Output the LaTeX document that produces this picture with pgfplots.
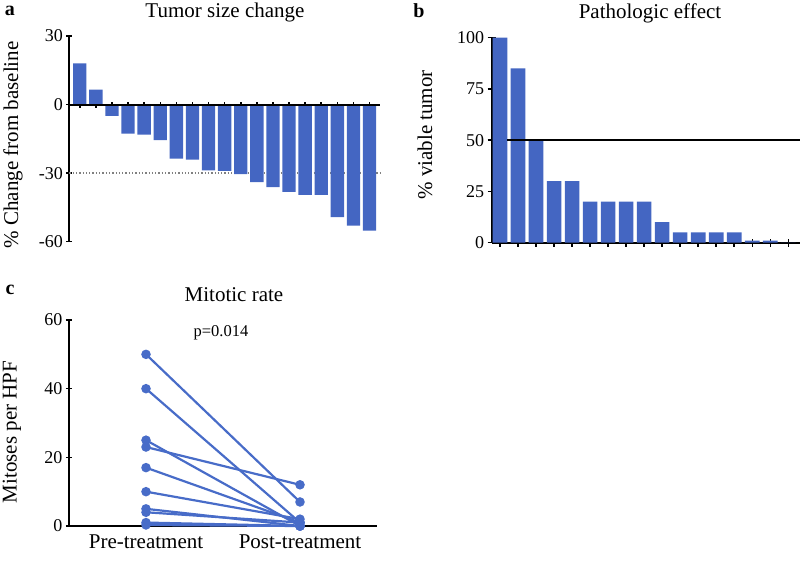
\documentclass[border=0pt]{standalone}
\usepackage{fontspec}
\setmainfont{Liberation Serif}
\usepackage{pgfplots}
\pgfplotsset{compat=1.18}
\definecolor{barblue}{RGB}{68,102,194}
\definecolor{lineblue}{RGB}{72,108,200}
\pgfplotsset{
  base/.style={
    scale only axis,
    clip=false,
    /pgf/number format/assume math mode=true,
    tick style={line width=1.5pt, black},
    tick align=outside,
    major tick length=6pt,
    ticklabel style={font=\fontsize{18}{20}\selectfont},
  },
  noarrows/.style={
    axis line style={line width=1.8pt,-},
    every inner x axis line/.append style={-},
    every outer x axis line/.append style={-},
    every inner y axis line/.append style={-},
    every outer y axis line/.append style={-},
  },
  pc/.style={lineblue, solid, line width=2.2pt, mark=*, mark size=3.6pt,
    mark options={solid, fill=lineblue, draw=lineblue}},
}
\begin{document}
\begin{tikzpicture}
\path[use as bounding box] (0pt,0pt) rectangle (800pt,560pt);
% ---------- panel a ----------
\begin{axis}[base,
  at={(69.3pt,318.3pt)}, anchor=south west,
  width=310.7pt, height=205.7pt,
  xmin=0.35, xmax=19.65, ymin=-60, ymax=30,
  axis y line=left, axis x line=middle, noarrows,
  xtick={1,...,19}, xticklabels={},
  ytick={-60,-30,0,30},
]
\draw[gray, dotted, line width=1.3pt] (axis cs:0.35,-30) -- (axis cs:19.65,-30);
\addplot[ybar, bar width=0.83, fill=barblue, draw=none] coordinates {
(1,18) (2,6.5) (3,-5) (4,-12.7) (5,-13.2) (6,-15.6) (7,-23.7) (8,-24.1)
(9,-28.8) (10,-29) (11,-30.4) (12,-33.9) (13,-36.1) (14,-38.2) (15,-39.5)
(16,-39.5) (17,-49.3) (18,-53) (19,-55.2)};
\draw[black, line width=2pt] (axis cs:0.35,0) -- (axis cs:19.65,0);
\end{axis}
% ---------- panel b ----------
\begin{axis}[base,
  at={(491.7pt,317.3pt)}, anchor=south west,
  width=308.3pt, height=205pt,
  xmin=0.54, xmax=17.65, ymin=0, ymax=100,
  axis y line=left, axis x line=bottom, noarrows,
  xtick={1,...,17}, xticklabels={},
  ytick={0,25,50,75,100},
  major tick length=8pt,
]
\addplot[ybar, bar width=0.81, fill=barblue, draw=none] coordinates {
(1,100) (2,85) (3,50) (4,30) (5,30) (6,20) (7,20) (8,20) (9,20) (10,10)
(11,5) (12,5) (13,5) (14,5) (15,1) (16,1) (17,0)};
\draw[black, line width=2pt] (axis cs:1.4,50) -- (axis cs:17.65,50);
\end{axis}
% ---------- panel c ----------
\begin{axis}[base,
  at={(69pt,34pt)}, anchor=south west,
  width=308pt, height=206pt,
  xmin=0.5, xmax=2.5, ymin=0, ymax=60,
  axis y line=left, axis x line=bottom, noarrows,
  xtick={1,2}, xticklabels={Pre-treatment,Post-treatment},
  xticklabel style={font=\fontsize{21}{23}\selectfont},
  x tick label style={yshift=-2pt},
  major x tick style={line width=1.2pt},
  ytick={0,20,40,60},
]
\addplot[pc] coordinates {(1,50) (2,7)};
\addplot[pc] coordinates {(1,40) (2,1)};
\addplot[pc] coordinates {(1,25) (2,0)};
\addplot[pc] coordinates {(1,23) (2,12)};
\addplot[pc] coordinates {(1,17) (2,1)};
\addplot[pc] coordinates {(1,10) (2,2)};
\addplot[pc] coordinates {(1,5) (2,0)};
\addplot[pc] coordinates {(1,4) (2,1)};
\addplot[pc] coordinates {(1,1) (2,0)};
\addplot[pc] coordinates {(1,0.3) (2,0)};
\end{axis}
% ---------- texts ----------
\node[font=\fontsize{21}{23}\selectfont] at (225pt,548pt) {Tumor size change};
\node[font=\fontsize{21}{23}\selectfont] at (650pt,547pt) {Pathologic effect};
\node[font=\fontsize{21}{23}\selectfont] at (234pt,265pt) {Mitotic rate};
\node[font=\fontsize{16.5}{18}\selectfont] at (221pt,227pt) {p=0.014};
\node[font=\fontsize{20}{22}\selectfont\bfseries] at (10pt,549pt) {a};
\node[font=\fontsize{20}{22}\selectfont\bfseries] at (419pt,549pt) {b};
\node[font=\fontsize{20}{22}\selectfont\bfseries] at (10pt,270pt) {c};
\node[rotate=90, font=\fontsize{21}{23}\selectfont] at (13pt,415pt) {\% Change from baseline};
\node[rotate=90, font=\fontsize{21}{23}\selectfont] at (425pt,425pt) {\% viable tumor};
\node[rotate=90, font=\fontsize{21}{23}\selectfont] at (12pt,128pt) {Mitoses per HPF};
\end{tikzpicture}
\end{document}
